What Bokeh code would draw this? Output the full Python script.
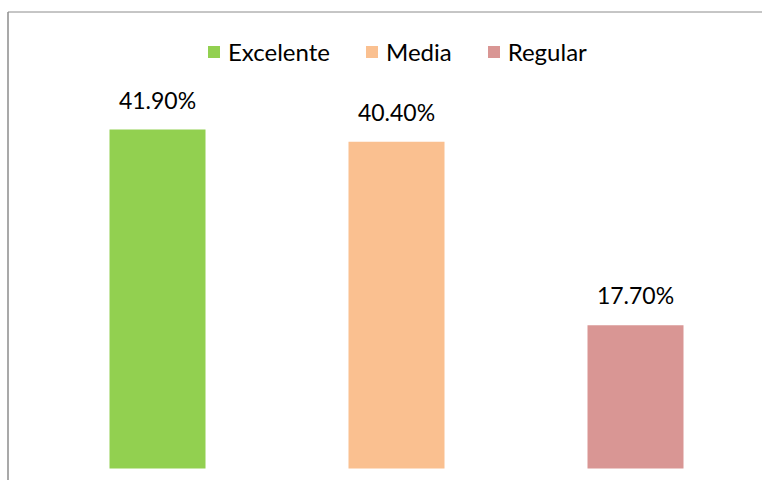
from bokeh.plotting import figure
from bokeh.models import ColumnDataSource, Range1d, Legend, LegendItem
from bokeh.core.properties import value
from bokeh.embed import file_html
from bokeh.resources import INLINE

categories = ["Excelente", "Media", "Regular"]
percentages = [41.9, 40.4, 17.7]
labels = ["41.90%", "40.40%", "17.70%"]
colors = ["#92D050", "#FAC090", "#D99694"]

W, H = 762, 480
PX_PER_UNIT = 8.09
X_SPACING = 239.0

src = ColumnDataSource(dict(
    x=list(range(len(categories))),
    top=percentages,
    label=labels,
    color=colors,
    cat=categories,
))

x_start = -157 / X_SPACING
x_end = x_start + W / X_SPACING
y_start = -(H - 468) / PX_PER_UNIT
y_end = y_start + H / PX_PER_UNIT
p = figure(width=W, height=H, output_backend="svg", toolbar_location=None,
           x_range=Range1d(x_start, x_end),
           y_range=Range1d(y_start, y_end),
           min_border=0, min_border_left=0, min_border_right=0,
           min_border_top=0, min_border_bottom=0)
p.axis.visible = False
p.grid.visible = False
p.outline_line_color = None
p.background_fill_color = "white"
p.border_fill_color = "white"

renderers = []
for i, c in enumerate(categories):
    r = p.vbar(x=[i], top=[percentages[i]], bottom=0, width=96 / X_SPACING,
               fill_color=colors[i], line_color=None)
    renderers.append(r)

p.text(x="x", y="top", text="label", source=src, text_align="center",
       text_baseline="alphabetic", y_offset=-30,
       text_font=value("Lato"), text_font_size="23px", text_color="#000000")

# chart border: left and top edges of the chart area frame
bx = x_start + 7.5 / X_SPACING
by = y_start + (H - 11.5) / PX_PER_UNIT
p.line(x=[bx, bx], y=[y_start - 1, by], line_color="#8C8C8C", line_width=1.5)
p.line(x=[bx, x_end + 1], y=[by, by], line_color="#8C8C8C", line_width=1)

legend = Legend(items=[LegendItem(label=c, renderers=[r]) for c, r in zip(categories, renderers)],
                orientation="horizontal", location=(206, 414),
                glyph_width=15, glyph_height=15, label_standoff=7, spacing=34,
                label_text_font="Lato", label_text_font_size="24px",
                label_text_color="#000000", border_line_color=None,
                background_fill_alpha=0, padding=0, margin=0)
p.add_layout(legend)

open("out.html", "w").write(file_html(p, INLINE))
